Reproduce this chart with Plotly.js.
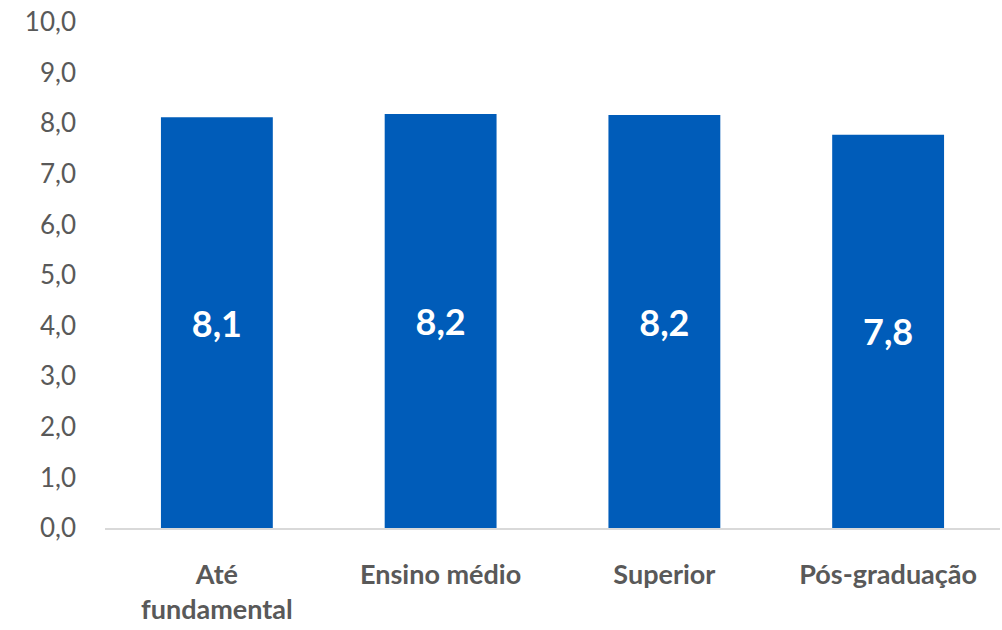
<!DOCTYPE html>
<html>
<head>
<meta charset="utf-8">
<script src="https://cdn.plot.ly/plotly-3.0.1.min.js"></script>
<style>html,body{margin:0;padding:0;background:#fff;}#chart{width:1002px;height:630px;}</style>
</head>
<body>
<div id="chart"></div>
<script>
const categories = ["Até<br>fundamental", "Ensino médio", "Superior", "Pós-graduação"];
const values = [8.12, 8.18, 8.16, 7.77];
const yTickVals = [0,1,2,3,4,5,6,7,8,9,10];

const trace = {
  type: "bar",
  x: categories,
  y: values,
  marker: {color: "#005CB9"},
  texttemplate: "%{y:.1f}",
  textposition: "inside",
  insidetextanchor: "middle",
  textangle: 0,
  textfont: {family: "Lato, 'Open Sans', sans-serif", size: 36, color: "#ffffff", weight: "bold"},
  hoverinfo: "none"
};

const layout = {
  width: 1002, height: 630,
  margin: {l: 105, r: 2, t: 22, b: 102},
  paper_bgcolor: "#ffffff", plot_bgcolor: "#ffffff",
  separators: ",.",
  bargap: 0.5,
  showlegend: false,
  font: {family: "Lato, 'Open Sans', sans-serif", color: "#595959"},
  xaxis: {
    type: "category",
    showline: true, linecolor: "#d9d9d9", linewidth: 1.5,
    showgrid: false, ticks: "", zeroline: false,
    tickfont: {size: 27, color: "#595959", weight: "bold"},
    ticklabelstandoff: 22
  },
  yaxis: {
    range: [0, 10], tickvals: yTickVals, tickformat: ".1f",
    showgrid: false, zeroline: false, showline: false, ticks: "",
    tickfont: {size: 26, color: "#595959"},
    ticklabelstandoff: 28
  }
};

Plotly.newPlot("chart", [trace], layout, {displayModeBar: false, staticPlot: true});
</script>
</body>
</html>
